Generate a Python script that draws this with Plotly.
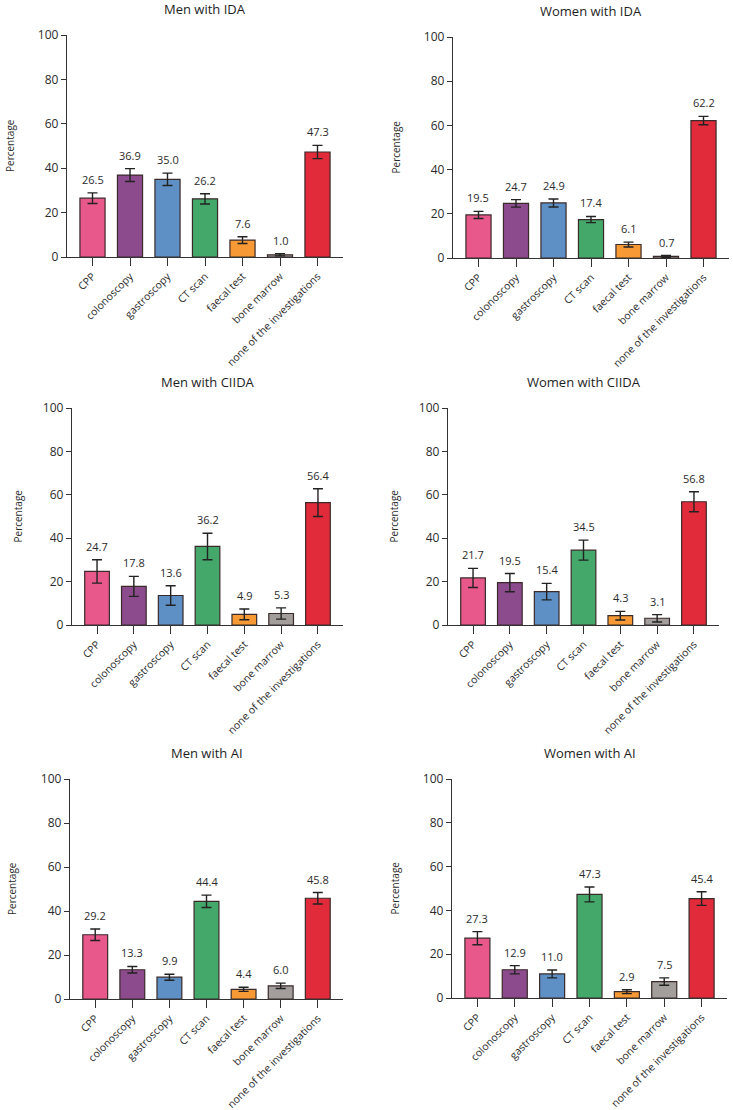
import plotly.graph_objects as go

W, H = 733, 1110

categories = ["CPP", "colonoscopy", "gastroscopy", "CT scan", "faecal test",
              "bone marrow", "none of the investigations"]
bar_colors = ["#E8588A", "#8C4B8C", "#5E90C6", "#43A86A", "#F79A35", "#A39E9C", "#E12B3A"]

titles = ["Men with IDA", "Women with IDA", "Men with CIIDA",
          "Women with CIIDA", "Men with AI", "Women with AI"]

men_ida = [26.5, 36.9, 35.0, 26.2, 7.6, 1.0, 47.3]
men_ida_err = [2.4, 2.9, 2.8, 2.3, 1.5, 0.5, 3.0]
women_ida = [19.5, 24.7, 24.9, 17.4, 6.1, 0.7, 62.2]
women_ida_err = [1.6, 1.7, 1.8, 1.4, 1.1, 0.4, 1.9]
men_ciida = [24.7, 17.8, 13.6, 36.2, 4.9, 5.3, 56.4]
men_ciida_err = [5.4, 4.6, 4.5, 6.1, 2.5, 2.6, 6.4]
women_ciida = [21.7, 19.5, 15.4, 34.5, 4.3, 3.1, 56.8]
women_ciida_err = [4.4, 4.2, 3.8, 4.6, 2.0, 1.7, 4.6]
men_ai = [29.2, 13.3, 9.9, 44.4, 4.4, 6.0, 45.8]
men_ai_err = [2.6, 1.5, 1.35, 2.8, 0.95, 1.2, 2.6]
women_ai = [27.3, 12.9, 11.0, 47.3, 2.9, 7.5, 45.4]
women_ai_err = [3.0, 1.9, 1.8, 3.4, 0.9, 1.7, 3.1]

yticks = [0, 20, 40, 60, 80, 100]

series = [(men_ida, men_ida_err), (women_ida, women_ida_err),
          (men_ciida, men_ciida_err), (women_ciida, women_ciida_err),
          (men_ai, men_ai_err), (women_ai, women_ai_err)]

# panel pixel boxes: (x0, x1, ytop, ybottom)
boxes = [(67, 343, 35, 257), (453, 729, 37, 258),
         (72, 343, 408, 625), (448, 719, 408, 625),
         (70, 343, 779, 999), (452, 727, 779, 998)]
ytitle_x = [10, 396, 17, 393, 12, 394]

FONT = "Open Sans"
TXT = "#2b2b2b"
AX = "#333333"

fig = go.Figure()
annotations = []
layout = {}
for i, ((vals, errs), (x0, x1, yt, yb)) in enumerate(zip(series, boxes)):
    n = "" if i == 0 else str(i + 1)
    xa, ya = "x" + n, "y" + n
    fig.add_trace(go.Bar(
        x=categories, y=vals, xaxis=xa, yaxis=ya,
        marker=dict(color=bar_colors, line=dict(color="#3a2a2a", width=1.2)),
        error_y=dict(type="data", array=errs, visible=True, color="#222222",
                     thickness=1.4, width=5),
        showlegend=False, hoverinfo="skip"))
    layout["xaxis" + n] = dict(
        domain=[x0 / W, x1 / W], anchor=ya, range=[-0.68, 6.68], automargin=False,
        tickangle=-45, ticks="outside", ticklen=8, tickwidth=1.2, tickcolor=AX,
        showline=True, linecolor=AX, linewidth=1.3, showgrid=False,
        tickfont=dict(family=FONT, size=10.5, color=TXT), fixedrange=True)
    layout["yaxis" + n] = dict(
        domain=[1 - yb / H, 1 - yt / H], anchor=xa, range=[0, 100], automargin=False,
        tickvals=yticks, ticks="outside", ticklen=5, tickwidth=1.2, tickcolor=AX,
        showline=True, linecolor=AX, linewidth=1.3, showgrid=False, zeroline=False,
        tickfont=dict(family=FONT, size=12, color=TXT), fixedrange=True)
    for c, v, e in zip(categories, vals, errs):
        annotations.append(dict(
            x=c, y=v + e, xref=xa, yref=ya, text=f"{v:.1f}", showarrow=False,
            yanchor="bottom", yshift=4,
            font=dict(family=FONT, size=11, color=TXT)))
    annotations.append(dict(
        x=(x0 + x1) / 2 / W, y=1 - (yt - 26) / H, xref="paper", yref="paper",
        text=titles[i], showarrow=False, xanchor="center", yanchor="middle",
        font=dict(family=FONT, size=13, color="#1e1e1e")))
    annotations.append(dict(
        x=ytitle_x[i] / W, y=1 - ((yt + yb) / 2 + 0) / H, xref="paper", yref="paper",
        text="Percentage", showarrow=False, textangle=-90,
        xanchor="center", yanchor="middle",
        font=dict(family=FONT, size=10, color=TXT)))

fig.update_layout(
    template="none",
    width=W, height=H, margin=dict(l=0, r=0, t=0, b=0, pad=0, autoexpand=False),
    paper_bgcolor="white", plot_bgcolor="white", bargap=0.33,
    annotations=annotations, **layout)

fig.write_html("out.html", config={"displayModeBar": False},
               post_script="document.body.style.margin='0';document.body.style.overflow='hidden';")
